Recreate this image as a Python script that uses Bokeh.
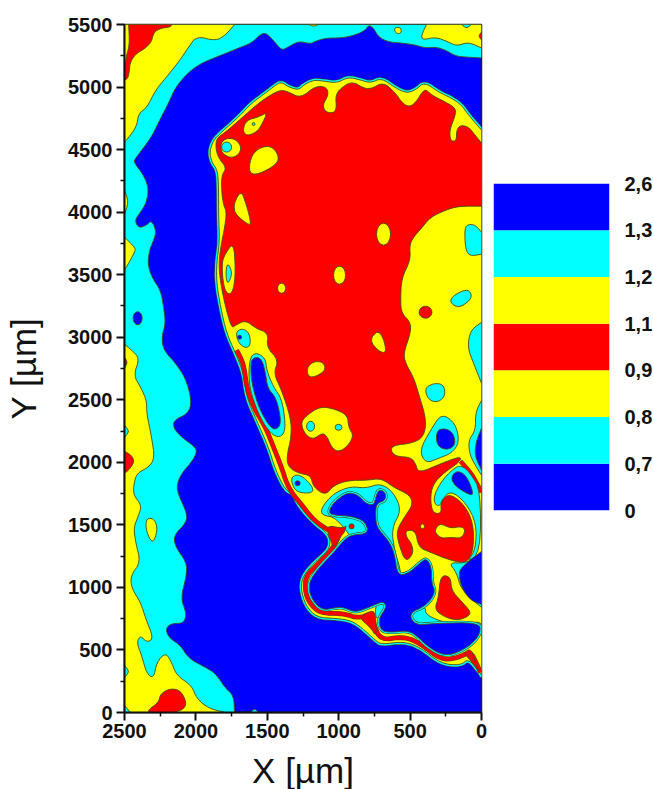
from bokeh.plotting import figure
from bokeh.layouts import row
from bokeh.models import Range1d, FixedTicker
from bokeh.embed import file_html
from bokeh.resources import INLINE

BLUE, CYAN, YELLOW, RED = "#0000ff", "#00ffff", "#ffff00", "#ff0000"
EDGE = "#4a4a18"

x_ticks = [0, 500, 1000, 1500, 2000, 2500]
y_ticks = [0, 500, 1000, 1500, 2000, 2500, 3000, 3500, 4000, 4500, 5000, 5500]
x_minor = [250, 750, 1250, 1750, 2250]
y_minor = [250, 750, 1250, 1750, 2250, 2750, 3250, 3750, 4250, 4750, 5250]
legend_labels = ["0", "0,7", "0,8", "0,9", "1,1", "1,2", "1,3", "2,6"]
legend_colors = [BLUE, CYAN, YELLOW, RED, YELLOW, CYAN, BLUE]

# contour outlines, (x um, y um)
cyan_outer = [(0,5232),(112,5240),(182,5248),(252,5296),(322,5320),(392,5312),(462,5336),(560,5352),(651,5360),(721,5400),(756,5472),(791,5496),(812,5456),(882,5416),(980,5392),(1085,5392),(1162,5368),(1197,5344),(1281,5368),(1365,5312),(1400,5296),(1442,5352),(1505,5432),(1547,5424),(1610,5352),(1701,5312),(1820,5256),(1960,5192),(2051,5120),(2142,5000),(2191,4872),(2261,4720),(2310,4600),(2422,4432),(2436,4400),(2366,4296),(2331,4192),(2345,4080),(2387,4000),(2429,3936),(2401,3872),(2345,3896),(2310,3936),(2275,3840),(2310,3736),(2324,3696),(2338,3592),(2310,3480),(2247,3376),(2226,3240),(2212,3112),(2240,3000),(2226,2896),(2142,2792),(2072,2672),(2030,2496),(2051,2392),(2156,2336),(2156,2272),(2100,2200),(2002,2120),(1995,2072),(2037,1992),(2100,1912),(2135,1816),(2121,1736),(2065,1600),(2065,1520),(2156,1416),(2142,1320),(2065,1200),(2065,1096),(2107,912),(2065,792),(2086,712),(2170,712),(2212,672),(2191,600),(2107,536),(2051,432),(1932,360),(1862,312),(1792,192),(1736,136),(1729,0),(2500,0),(2500,5500),(0,5500)]
cyan_bump = [(1617,0),(1589,32),(1561,0)]
yellow_topleft = [(1729,5500),(1792,5416),(1862,5368),(1995,5408),(2051,5320),(2121,5200),(2212,5072),(2282,4976),(2345,4832),(2401,4792),(2415,4680),(2492,4568),(2500,4560),(2500,5500)]
yellow_edge1 = [(2500,4176),(2471,4080),(2500,3984)]
yellow_edge2 = [(2500,3800),(2422,3712),(2429,3680),(2471,3592),(2500,3536)]
yellow_lowleft = [(2500,2944),(2450,2896),(2394,2832),(2436,2696),(2387,2600),(2345,2496),(2345,2392),(2310,2200),(2289,2032),(2331,1960),(2415,1912),(2436,1816),(2436,1736),(2380,1656),(2401,1576),(2436,1480),(2422,1360),(2387,1200),(2457,1096),(2450,992),(2387,880),(2352,752),(2296,592),(2345,560),(2387,616),(2415,560),(2380,456),(2345,312),(2296,272),(2275,400),(2212,480),(2170,400),(2135,296),(2030,216),(1995,112),(1911,32),(1792,0),(2500,0)]
yellow_left_isle = [(2345,1552),(2296,1552),(2268,1480),(2289,1376),(2317,1368),(2352,1472)]
yellow_topright = [(385,5500),(420,5416),(413,5376),(322,5400),(231,5360),(175,5328),(91,5360),(0,5312),(0,5500)]
yellow_top1 = [(616,5472),(567,5480),(560,5432),(595,5424)]
yellow_top2 = [(1211,5500),(1176,5484),(1141,5500)]
cyan_edge1 = [(2500,2296),(2465,2248),(2500,2200)]
cyan_edge2 = [(2500,376),(2465,328),(2500,280)]
cyan_edge3 = [(2500,56),(2458,0),(2500,0)]
cyan_top = [(140,5500),(105,5468),(70,5500)]
red_topleft = [(2471,5500),(2464,5336),(2492,5232),(2500,5056),(2471,5072),(2457,5240),(2317,5336),(2296,5440),(2240,5472),(2177,5480),(2170,5500)]
red_edge1 = [(2500,2840),(2478,2800),(2500,2752)]
red_edge2 = [(2500,2088),(2450,2056),(2429,2000),(2485,1920),(2500,1920)]
red_bottom = [(2331,0),(2331,24),(2261,80),(2247,152),(2177,192),(2107,176),(2065,80),(2086,24),(2156,0)]
red_topright = [(0,5440),(21,5408),(0,5376)]

main_blob = [(0,4656),(91,4776),(140,4856),(210,4912),(301,4960),(399,5040),(462,4976),(525,4952),(602,4992),(700,5072),(777,5032),(847,5056),(931,5080),(1015,5032),(1106,5048),(1176,5056),(1246,5016),(1281,4976),(1351,5000),(1400,5040),(1442,5016),(1512,4952),(1610,4872),(1701,4760),(1820,4640),(1876,4576),(1904,4488),(1890,4400),(1848,4336),(1841,4192),(1841,3976),(1834,3760),(1855,3592),(1855,3432),(1827,3240),(1785,3032),(1722,2872),(1666,2712),(1645,2520),(1575,2336),(1491,2120),(1442,1936),(1372,1776),(1316,1752),(1281,1656),(1176,1520),(1085,1440),(1057,1376),(1071,1296),(1176,1192),(1246,1096),(1267,1000),(1232,856),(1155,760),(1015,752),(917,736),(840,680),(742,576),(700,544),(546,568),(427,520),(287,392),(147,376),(91,432),(7,312),(0,296)]
main_red = [(0,4552),(56,4632),(91,4680),(147,4696),(175,4656),(175,4568),(217,4568),(224,4656),(182,4776),(182,4832),(252,4880),(350,4936),(399,4992),(462,4872),(511,4840),(560,4880),(602,4952),(686,5040),(777,4984),(826,4992),(910,5048),(1001,4976),(1022,4920),(1015,4832),(1036,4792),(1092,4800),(1113,4856),(1071,4936),(1085,5000),(1162,5008),(1267,4912),(1351,4960),(1400,4976),(1456,4952),(1561,4872),(1680,4752),(1792,4640),(1855,4592),(1862,4512),(1841,4432),(1785,4352),(1820,4296),(1820,4160),(1806,4056),(1785,4000),(1799,3872),(1820,3760),(1841,3592),(1827,3432),(1792,3240),(1750,3072),(1722,3096),(1652,3136),(1582,3072),(1491,3032),(1505,2920),(1421,2816),(1456,2712),(1400,2576),(1337,2360),(1330,2216),(1365,2040),(1351,1960),(1281,1912),(1197,1896),(1176,1800),(1092,1736),(1036,1816),(931,1856),(805,1856),(700,1872),(616,1800),(497,1736),(483,1656),(532,1576),(595,1456),(581,1352),(532,1200),(476,1272),(490,1352),(525,1400),(532,1456),(462,1456),(441,1320),(357,1280),(217,1216),(105,1192),(56,1296),(56,1512),(126,1672),(231,1752),(287,1680),(280,1592),(336,1592),(357,1672),(350,1800),(287,1896),(147,2008),(147,2048),(280,1992),(441,1912),(462,1992),(497,2040),(602,2048),(637,2096),(616,2136),(490,2152),(406,2200),(385,2336),(441,2552),(476,2680),(532,2792),(546,2872),(497,3032),(497,3120),(560,3192),(567,3296),(560,3472),(497,3616),(504,3736),(476,3800),(420,3872),(357,3960),(252,4016),(161,4048),(0,4048)]
lake = [(1071,1592),(1050,1656),(1001,1712),(931,1760),(861,1736),(812,1672),(756,1656),(742,1712),(721,1784),(672,1760),(672,1696),(735,1672),(742,1592),(735,1480),(651,1376),(609,1272),(588,1096),(511,1112),(427,1200),(385,1232),(350,1160),(350,1040),(322,960),(385,856),(511,792),(462,696),(336,712),(14,720),(7,632),(77,536),(196,464),(287,464),(385,536),(441,600),(511,656),(637,640),(707,656),(721,752),(665,840),(686,888),(742,864),(791,840),(882,800),(966,840),(1015,840),(1120,816),(1197,920),(1211,1032),(1155,1136),(1022,1296),(966,1376),(910,1420),(790,1430),(815,1530),(917,1570),(1015,1575)]
lake_cyan_north = [(1120,1640),(1036,1752),(917,1808),(812,1792),(707,1832),(616,1760),(560,1616),(630,1472),(609,1296),(560,1112),(588,1080),(616,1032),(847,1296),(1015,1560),(1120,1576)]
lake_cyan_south = [(511,792),(392,856),(392,776),(217,704),(14,728),(0,696),(406,688),(441,680),(511,736)]
lake_cyan_mid = [(742,864),(686,888),(665,840),(721,752),(742,760)]
ring_cyan = [(336,1720),(287,1840),(196,1952),(140,1976),(77,1912),(7,1776),(7,1280),(105,1200),(42,1296),(35,1512),(112,1680),(217,1776),(280,1696),(287,1656),(322,1656)]
ring_blue = [(217,1872),(175,1936),(105,1896),(56,1752),(77,1736),(175,1800)]
east_cyan = [(231,1200),(105,1192),(0,1280),(0,840),(140,976),(175,1120)]
east_blue = [(126,1176),(0,1288),(0,864),(77,896),(140,1000),(161,1120)]
red_lobe = [(287,1096),(217,1088),(210,976),(147,896),(70,800),(105,760),(175,736),(266,768),(329,824),(301,920)]
red_wedge1 = [(861,760),(770,816),(742,792),(735,600),(777,680)]
red_wedge2 = [(126,480),(70,512),(42,392),(14,320),(77,416)]
red_spur = [(1085,1496),(966,1472),(945,1500),(960,1440),(980,1416),(1036,1312),(1050,1360),(1071,1416)]
ridge_west = [(1715,2896),(1666,2792),(1645,2600),(1596,2440),(1512,2280),(1456,2120),(1400,1960),(1365,1832),(1316,1736),(1267,1672),(1176,1536),(1050,1440),(987,1432),(1050,1296),(1155,1176),(1225,1096),(1239,1000),(1211,880),(1127,792),(966,792),(861,752),(770,792),(756,712),(707,576),(546,608),(427,552),(287,424),(175,432),(77,488),(35,392),(7,320)]
ridge_east = [(147,2008),(77,1920),(35,1840),(0,1760)]
hole_long_cyan = [(1624,2832),(1582,2880),(1512,2832),(1505,2736),(1456,2600),(1400,2512),(1372,2312),(1386,2216),(1442,2200),(1512,2280),(1582,2440),(1631,2632)]
hole_long_blue = [(1617,2792),(1596,2840),(1540,2832),(1512,2712),(1498,2592),(1435,2512),(1400,2312),(1442,2256),(1491,2296),(1561,2440),(1610,2632)]
hole_small_cyan = [(1722,3040),(1673,3072),(1624,3032),(1617,2936),(1652,2912),(1701,2952)]
hole_low_cyan = [(1337,1872),(1295,1904),(1246,1880),(1190,1816),(1176,1760),(1246,1752),(1309,1776)]
isle_a = [(1827,4552),(1785,4592),(1722,4584),(1680,4520),(1701,4456),(1757,4432),(1820,4472)]
isle_b = [(1673,4656),(1645,4736),(1561,4760),(1498,4800),(1540,4696),(1575,4640),(1645,4608)]
isle_c = [(1631,4336),(1610,4456),(1547,4520),(1470,4528),(1421,4456),(1428,4392),(1512,4328),(1596,4296)]
isle_d = [(1750,4016),(1687,4184),(1645,4056),(1610,3896),(1652,3912)]
isle_e = [(1736,3760),(1722,3536),(1736,3376),(1771,3336),(1806,3400),(1820,3592),(1792,3672)]
isle_e_cyan = [(1778,3600),(1743,3512),(1778,3416),(1792,3512)]
isle_f = [(1225,2752),(1176,2808),(1106,2800),(1092,2736),(1155,2688),(1211,2680)]
isle_g = [(784,2976),(728,3056),(686,2992),(665,2872),(721,2888)]
isle_h = [(1267,2312),(1225,2376),(1127,2448),(1022,2424),(938,2376),(931,2280),(896,2216),(931,2136),(1001,2080),(1050,2120),(1085,2216),(1120,2232),(1176,2184),(1232,2216)]
isle_lower = [(322,1472),(287,1512),(217,1472),(140,1488),(112,1456),(140,1392),(217,1400),(280,1392),(322,1432)]
wedge_cyan_a = [(224,3280),(196,3336),(105,3384),(70,3352),(77,3296),(161,3232)]
wedge_cyan_b = [(0,3840),(42,3896),(91,3904),(119,3872),(112,3696),(77,3648),(0,3664)]
wedge_cyan_c = [(0,3120),(77,3056),(98,2920),(56,2792),(0,2632)]
wedge_cyan_d = [(399,2592),(336,2632),(266,2624),(252,2536),(301,2480),(371,2496)]
wedge_cyan_e = [(434,2096),(357,2256),(280,2392),(182,2312),(154,2160),(210,2072),(301,2032),(392,1992)]
wedge_blue_e = [(315,2256),(252,2272),(196,2232),(182,2136),(245,2096),(315,2136)]
wedge_cyan_f = [(0,2496),(42,2400),(42,2256),(91,2176),(84,2072),(56,2000),(0,1896)]
wedge_blue_f = [(0,2272),(35,2176),(49,2056),(0,1936)]

# small round spots: x, y, width, height in um
spots_blue_low = [(2408, 3152, 63, 104)]
spots_yellow = [(994, 3496, 84, 144), (686, 3824, 98, 176), (1400, 3392, 56, 80), (413, 1488, 28, 40)]
spots_cyan = [(1785, 4520, 70, 80), (1596, 4704, 20, 24), (1197, 2288, 56, 80), (1001, 2280, 48, 48)]
spots_blue = [(1694, 3000, 28, 32), (1288, 1832, 36, 40)]
spots_red = [(392, 3200, 90, 96), (910, 1488, 36, 40)]

p = figure(width=488, height=780, frame_width=357, frame_height=688,
           x_range=Range1d(2500, 0), y_range=Range1d(0, 5500),
           output_backend="svg", toolbar_location=None,
           min_border_left=124, min_border_right=7, min_border_top=24, min_border_bottom=68)
p.grid.visible = False
p.background_fill_color = BLUE
p.border_fill_color = "white"
p.outline_line_color = "#222222"
p.outline_line_width = 1.5


def on_frame(q):
    return q[0] <= 0 or q[0] >= 2500 or q[1] <= 0 or q[1] >= 5500


def rounded(poly, closed=True):
    """Round the drawn corners of an outline; points on the plot frame stay put."""
    for _ in range(2):
        out = []
        n = len(poly)
        for i, q in enumerate(poly):
            if on_frame(q) or (not closed and i in (0, n - 1)):
                out.append(q)
                continue
            a, b = poly[i - 1], poly[(i + 1) % n]
            out.append((q[0] * 0.75 + a[0] * 0.25, q[1] * 0.75 + a[1] * 0.25))
            out.append((q[0] * 0.75 + b[0] * 0.25, q[1] * 0.75 + b[1] * 0.25))
        poly = out
    return poly


def columns(polys):
    smooth = [rounded(poly) for poly in polys]
    return [[q[0] for q in s] for s in smooth], [[q[1] for q in s] for s in smooth]


def fill(polys, color, lw=0.9):
    xs, ys = columns(polys)
    p.patches(xs, ys, fill_color=color, line_color=EDGE, line_width=lw, line_join="round")


def halo(polys, color, width):
    xs, ys = columns(polys)
    p.patches(xs, ys, fill_color=None, line_color=EDGE, line_width=width + 1.2, line_join="round")
    p.patches(xs, ys, fill_color=None, line_color=color, line_width=width, line_join="round")


def stroke(path, color, width):
    s = rounded(path, closed=False)
    px_, py_ = [q[0] for q in s], [q[1] for q in s]
    p.line(px_, py_, line_color=EDGE, line_width=width + 1.0, line_join="round")
    p.line(px_, py_, line_color=color, line_width=width, line_join="round")


def spots(rows, color):
    p.ellipse([r[0] for r in rows], [r[1] for r in rows], width=[r[2] for r in rows],
              height=[r[3] for r in rows], fill_color=color, line_color=EDGE, line_width=0.9)


fill([cyan_outer, cyan_bump], CYAN)
spots(spots_blue_low, BLUE)
fill([yellow_topleft, yellow_edge1, yellow_edge2, yellow_lowleft, yellow_topright, yellow_top1, yellow_top2], YELLOW)
fill([yellow_left_isle], YELLOW)
fill([cyan_edge1, cyan_edge2, cyan_edge3, cyan_top], CYAN)
fill([red_topleft, red_edge1, red_edge2, red_bottom, red_topright], RED)

halo([main_blob], CYAN, 3.5)
fill([main_blob], YELLOW)
fill([main_red], RED)
stroke(ridge_west, RED, 3.8)
stroke(ridge_east, RED, 3.4)
fill([red_wedge1, red_wedge2], RED)
fill([lake_cyan_north, lake_cyan_south, lake_cyan_mid, ring_cyan, east_cyan], CYAN)
fill([ring_blue, east_blue], BLUE)
halo([lake], CYAN, 3.0)
fill([lake], BLUE)
fill([red_spur], RED)
fill([red_lobe], RED)
fill([hole_long_cyan, hole_small_cyan, hole_low_cyan], CYAN)
fill([hole_long_blue], BLUE)
fill([isle_a, isle_b, isle_c, isle_d, isle_e, isle_f, isle_g, isle_h, isle_lower], YELLOW)
spots(spots_yellow, YELLOW)
fill([isle_e_cyan, wedge_cyan_a, wedge_cyan_b, wedge_cyan_c, wedge_cyan_d, wedge_cyan_e, wedge_cyan_f], CYAN)
spots(spots_cyan, CYAN)
fill([wedge_blue_e, wedge_blue_f], BLUE)
spots(spots_blue, BLUE)
spots(spots_red, RED)

for ax, label, ticks, minor in ((p.xaxis[0], "X [\u00b5m]", x_ticks, x_minor),
                                (p.yaxis[0], "Y [\u00b5m]", y_ticks, y_minor)):
    ax.ticker = FixedTicker(ticks=ticks, minor_ticks=minor)
    ax.axis_label = label
    ax.axis_label_text_font = "Liberation Sans"
    ax.axis_label_text_font_size = "35px"
    ax.axis_label_text_font_style = "normal"
    ax.axis_label_text_color = "#111111"
    ax.major_label_text_font = "Liberation Sans"
    ax.major_label_text_font_size = "20px"
    ax.major_label_text_font_style = "bold"
    ax.major_label_text_color = "#111111"
    ax.axis_line_color = "#111111"
    ax.axis_line_width = 2
    ax.major_tick_line_color = "#111111"
    ax.minor_tick_line_color = "#111111"
    ax.major_tick_line_width = 2
    ax.minor_tick_line_width = 1.5
    ax.major_tick_out = 8
    ax.major_tick_in = 0
    ax.minor_tick_out = 4
    ax.minor_tick_in = 0
p.xaxis[0].major_label_standoff = 3
p.yaxis[0].major_label_standoff = 4
p.xaxis[0].axis_label_standoff = 10
p.yaxis[0].axis_label_standoff = 22

bar = figure(width=156, height=381, frame_width=116, frame_height=327,
             x_range=Range1d(0, 1), y_range=Range1d(0, 7),
             output_backend="svg", toolbar_location=None,
             x_axis_location=None, y_axis_location="right",
             min_border_left=5, min_border_right=35, min_border_top=24, min_border_bottom=30,
             margin=(159, 0, 0, 0), align="start")
bar.grid.visible = False
bar.outline_line_color = None
levels = list(range(len(legend_colors)))
bar.vbar(x=[0.5] * len(levels), width=1, bottom=levels, top=[v + 1 for v in levels],
         fill_color=legend_colors, line_color=None)
ax = bar.yaxis[0]
ax.ticker = FixedTicker(ticks=list(range(len(legend_labels))))
ax.major_label_overrides = {i: t for i, t in enumerate(legend_labels)}
ax.axis_line_color = None
ax.major_tick_line_color = None
ax.minor_tick_line_color = None
ax.major_label_standoff = 9
ax.major_label_text_font = "Liberation Sans"
ax.major_label_text_font_size = "20px"
ax.major_label_text_font_style = "bold"
ax.major_label_text_color = "#111111"

open("out.html", "w").write(file_html(row(p, bar, spacing=0), INLINE))
